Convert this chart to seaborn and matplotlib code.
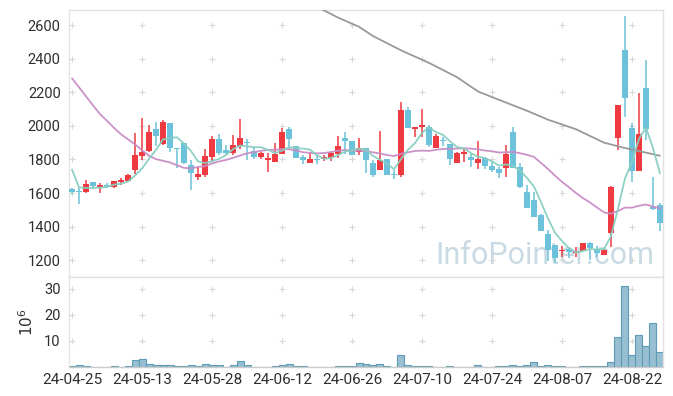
import numpy as np
import pandas as pd
import matplotlib
matplotlib.use("Agg")
import matplotlib.pyplot as plt
import seaborn as sns

# daily candles, 24-04-25 .. 24-08-28 (trading days)
opens = [1622, 1612, 1608, 1665, 1632, 1648, 1635, 1668, 1673, 1737,
         1822, 1852, 1981, 1890, 2015, 1868, 1896, 1765, 1697, 1707,
         1816, 1921, 1856, 1840, 1882, 1906, 1850, 1816, 1798, 1786,
         1832, 1981, 1880, 1816, 1781, 1802, 1804, 1810, 1832, 1927,
         1910, 1842, 1866, 1781, 1737, 1802, 1709, 1707, 2094, 1983,
         1995, 1995, 1870, 1916, 1892, 1781, 1834, 1814, 1781, 1806,
         1761, 1743, 1751, 1961, 1753, 1608, 1558, 1469, 1356, 1290,
         1253, 1265, 1241, 1253, 1304, 1267, 1231, 1364, 1929, 2451,
         1989, 1733, 2225, 1519, 1529]
highs = [1628, 1630, 1675, 1665, 1660, 1660, 1672, 1688, 1712, 1960,
         2045, 2005, 2025, 2035, 2018, 1870, 1898, 1796, 1757, 1860,
         1939, 1951, 1886, 1945, 2040, 1921, 1876, 1846, 1836, 1896,
         1985, 1991, 1882, 1826, 1846, 1826, 1826, 1846, 1939, 1961,
         1912, 1925, 1868, 1796, 1969, 1804, 1737, 2140, 2114, 1995,
         2100, 2005, 1951, 1935, 1894, 1846, 1866, 1840, 1911, 1816,
         1786, 1757, 1886, 1991, 1777, 1648, 1608, 1475, 1380, 1292,
         1285, 1278, 1278, 1302, 1310, 1285, 1265, 1640, 2126, 2654,
         2015, 2193, 2392, 1697, 1542]
lows = [1596, 1535, 1602, 1625, 1600, 1628, 1630, 1645, 1667, 1715,
        1796, 1846, 1882, 1886, 1846, 1747, 1775, 1618, 1680, 1697,
        1786, 1826, 1828, 1826, 1860, 1796, 1800, 1800, 1727, 1786,
        1832, 1866, 1808, 1773, 1781, 1775, 1790, 1792, 1810, 1832,
        1826, 1826, 1717, 1697, 1737, 1705, 1681, 1697, 1987, 1935,
        1935, 1876, 1868, 1880, 1767, 1781, 1786, 1753, 1741, 1741,
        1727, 1688, 1697, 1749, 1632, 1511, 1457, 1374, 1195, 1185,
        1217, 1211, 1221, 1253, 1201, 1217, 1231, 1281, 1856, 2054,
        1667, 1731, 1916, 1499, 1376]
closes = [1608, 1608, 1652, 1644, 1648, 1636, 1670, 1680, 1707, 1826,
          1846, 1963, 1941, 2021, 1870, 1864, 1777, 1718, 1713, 1820,
          1921, 1840, 1838, 1886, 1930, 1896, 1816, 1836, 1810, 1832,
          1965, 1921, 1810, 1796, 1802, 1794, 1816, 1836, 1880, 1911,
          1826, 1866, 1796, 1707, 1796, 1707, 1705, 2094, 1989, 1993,
          2007, 1886, 1939, 1908, 1800, 1836, 1846, 1796, 1802, 1761,
          1737, 1721, 1832, 1751, 1634, 1513, 1459, 1376, 1261, 1211,
          1263, 1247, 1251, 1302, 1273, 1243, 1261, 1638, 2124, 2167,
          1731, 1951, 1981, 1507, 1420]
# volume, millions of shares
volumes = [0.4, 0.6, 0.4, 0.1, 0.1, 0.1, 0.4, 0.1, 0.3, 2.7,
           3.1, 1.2, 0.8, 0.8, 0.8, 0.4, 0.4, 0.8, 0.4, 1.2,
           0.8, 0.8, 0.1, 0.8, 2.3, 0.8, 0.1, 0.1, 0.1, 0.3,
           0.7, 1.2, 0.4, 0.4, 0.1, 0.1, 0.1, 0.1, 0.4, 0.4,
           0.4, 1.5, 1.2, 0.8, 1.2, 0.4, 0.1, 4.6, 0.8, 0.4,
           0.4, 0.4, 0.1, 0.1, 0.4, 0.1, 0.1, 0.1, 0.8, 0.1,
           0.1, 0.4, 0.4, 0.8, 0.4, 0.8, 1.9, 0.4, 0.8, 0.4,
           0.4, 0.1, 0.1, 0.4, 0.4, 0.4, 0.4, 1.9, 11.5, 31.2,
           4.6, 12.3, 8.1, 16.9, 5.8]

# moving averages before enough visible history
ma5_head = [1740, 1634, 1630, 1632]
ma20_head = [2283, 2230, 2176, 2122, 2070, 2030, 1988, 1950, 1920, 1890,
             1855, 1822, 1802, 1792, 1782, 1765, 1750, 1747, 1755]
ma60_idx = [34, 38, 41, 43, 47, 51, 55, 58, 61, 65, 68, 72, 76, 79, 81, 84]
ma60_val = [2730, 2645, 2590, 2535, 2450, 2375, 2290, 2205, 2155, 2090,
            2037, 1980, 1900, 1868, 1850, 1822]

tick_pos = [0, 10, 20, 30, 40, 50, 60, 70, 80]
tick_labels = ['24-04-25', '24-05-13', '24-05-28', '24-06-12', '24-06-26',
               '24-07-10', '24-07-24', '24-08-07', '24-08-22']
price_ticks = [1200, 1400, 1600, 1800, 2000, 2200, 2400, 2600]
vol_ticks = [10, 20, 30]

sns.set_style("white")
plt.rcParams['font.family'] = ['Roboto', 'DejaVu Sans']

df = pd.DataFrame({'i': np.arange(len(closes)), 'o': opens, 'h': highs,
                   'l': lows, 'c': closes, 'v': volumes})
ma5 = df['c'].rolling(5).mean()
ma5.iloc[:4] = ma5_head
ma20 = df['c'].rolling(20).mean()
ma20.iloc[:19] = ma20_head
df['ma5'] = ma5
df['ma20'] = ma20
ma60 = pd.DataFrame({'i': ma60_idx, 'ma60': ma60_val})

red = '#ee3a40'
blue = '#6cc2da'
grid_c = '#d8d8d8'
spine_c = '#e2e2e2'
txt_c = '#2e2e2e'

fig = plt.figure(figsize=(6.73, 3.96), dpi=100)
ax = fig.add_axes([69/673, 1-277/396, 594/673, 267/396])
axv = fig.add_axes([69/673, 1-367/396, 594/673, 90/396], sharex=ax)

xlim = (-0.43, 84.43)

# watermark
ax.text(0.985, 0.025, 'InfoPointer.com', transform=ax.transAxes,
        ha='right', va='bottom', fontsize=22, color='#c9dae4', zorder=0)

# grid crosses
gx, gy = np.meshgrid(tick_pos, price_ticks)
ax.scatter(gx.ravel(), gy.ravel(), marker='+', s=22, color=grid_c,
           linewidths=0.8, zorder=1)

up = df['c'] >= df['o']
cols = np.where(up, red, blue)
ax.vlines(df['i'], df['l'], df['h'], colors=cols, linewidth=1.1, zorder=2)
body_lo = np.minimum(df['o'], df['c'])
body_h = np.maximum(np.abs(df['c'] - df['o']), 6)
ax.bar(df['i'], body_h, bottom=body_lo, width=0.72, color=cols,
       linewidth=0, zorder=3)

sns.lineplot(data=df, x='i', y='ma20', ax=ax, color='#c98cc6', lw=1.3,
             alpha=0.95, zorder=4)
sns.lineplot(data=ma60, x='i', y='ma60', ax=ax, color='#999999', lw=1.3,
             zorder=4)
sns.lineplot(data=df, x='i', y='ma5', ax=ax, color='#88cfc1', lw=1.3,
             alpha=0.95, zorder=5)

ax.set_xlim(*xlim)
ax.set_ylim(1100, 2690)
ax.set_yticks(price_ticks)
ax.set_xticks(tick_pos)
ax.tick_params(axis='x', labelbottom=False, length=0)
ax.tick_params(axis='y', length=0, pad=6, labelsize=10.5, labelcolor=txt_c)
ax.set_xlabel('')
ax.set_ylabel('')
for s in ax.spines.values():
    s.set_color(spine_c)
    s.set_linewidth(1)

# volume panel
vx, vy = np.meshgrid(tick_pos, vol_ticks)
axv.scatter(vx.ravel(), vy.ravel(), marker='+', s=22, color=grid_c,
            linewidths=0.8, zorder=1)
axv.bar(df['i'], df['v'], width=1.0, color='#97bfd1', edgecolor='#5d9bb6',
        linewidth=0.8, zorder=2)
axv.set_ylim(0, 34.6)
axv.set_yticks(vol_ticks)
axv.set_xticks(tick_pos)
axv.set_xticklabels(tick_labels)
axv.tick_params(axis='both', length=0, labelsize=11, labelcolor=txt_c)
axv.tick_params(axis='y', pad=6, labelsize=10.5)
axv.tick_params(axis='x', pad=4)
axv.set_xlim(*xlim)
axv.set_ylabel('$10^6$', fontsize=11, color=txt_c, labelpad=6)
for s in axv.spines.values():
    s.set_color(spine_c)
    s.set_linewidth(1)
axv.spines['bottom'].set_color('#cccccc')

fig.savefig('out.png', dpi=100)
